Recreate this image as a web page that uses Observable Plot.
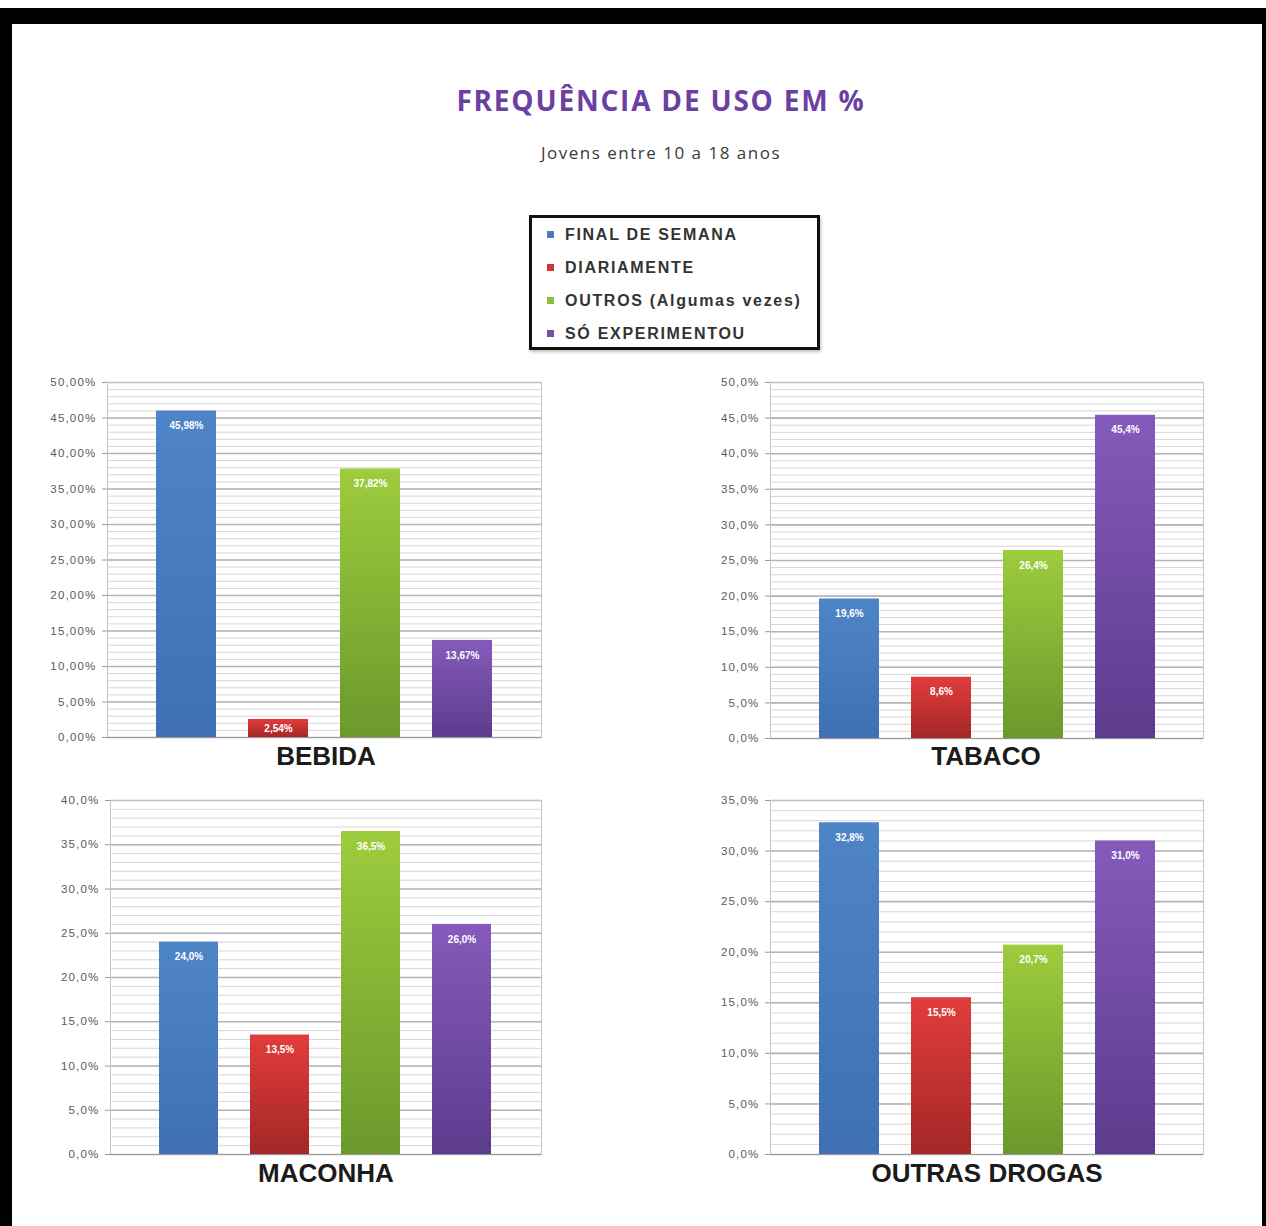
<!DOCTYPE html>
<html>
<head>
<meta charset="utf-8">
<script src="https://cdn.jsdelivr.net/npm/d3@7"></script>
<script src="https://cdn.jsdelivr.net/npm/@observablehq/plot@0.6"></script>
<style>
  html, body { margin: 0; padding: 0; background: #fff; }
  #page { position: relative; width: 1266px; height: 1226px; overflow: hidden; background: #fff; }
  #frame { position: absolute; left: 0; top: 8px; width: 1266px; height: 1218px; box-sizing: border-box;
           border-top: 16px solid #000; border-left: 12px solid #000; border-right: 4px solid #000; background: #fff; }
  .abs { position: absolute; }
  #title { left: 261px; width: 800px; top: 83px; text-align: center; font-family: "Open Sans", sans-serif;
           font-weight: 700; font-size: 28px; line-height: 34px; color: #6c3fa3; letter-spacing: 1.8px; }
  #subtitle { left: 461px; width: 400px; top: 142px; text-align: center; font-family: "Open Sans", sans-serif;
              font-size: 17px; line-height: 22px; color: #3a3a3a; letter-spacing: 1.5px; }
  #legend { left: 529px; top: 215px; width: 291px; height: 135px; box-sizing: border-box; border: 3px solid #111;
            background: #fff; box-shadow: 1px 2px 3px rgba(0,0,0,0.25); }
  .lrow { position: relative; height: 33px; line-height: 33px; padding-left: 33px; font-family: "Liberation Sans", Arial, sans-serif;
          font-weight: 700; font-size: 16px; color: #333; letter-spacing: 1.7px; white-space: nowrap; }
  .lsw { position: absolute; left: 15px; top: 13px; width: 7px; height: 7px; }
  .cat { font-family: "Liberation Sans", Arial, sans-serif; font-weight: 700; font-size: 26px; line-height: 30px;
         color: #1b1b1b; text-align: center; width: 400px; }
  .chart { position: absolute; }
</style>
</head>
<body>
<div id="page">
  <div id="frame"></div>
  <svg width="0" height="0" style="position:absolute">
    <defs>
      <linearGradient id="gBlue" x1="0" y1="0" x2="0" y2="1">
        <stop offset="0" stop-color="#4e85c8"/><stop offset="1" stop-color="#3e70b3"/>
      </linearGradient>
      <linearGradient id="gRed" x1="0" y1="0" x2="0" y2="1">
        <stop offset="0" stop-color="#e23c3c"/><stop offset="1" stop-color="#a42727"/>
      </linearGradient>
      <linearGradient id="gGreen" x1="0" y1="0" x2="0" y2="1">
        <stop offset="0" stop-color="#9dcc3d"/><stop offset="1" stop-color="#6b992c"/>
      </linearGradient>
      <linearGradient id="gPurple" x1="0" y1="0" x2="0" y2="1">
        <stop offset="0" stop-color="#855abb"/><stop offset="1" stop-color="#5c3c8d"/>
      </linearGradient>
    </defs>
  </svg>
  <div id="title" class="abs"></div>
  <div id="subtitle" class="abs"></div>
  <div id="legend" class="abs"></div>
</div>
<script>
// ---- data ----
const titleText = "FREQUÊNCIA DE USO EM %";
const subtitleText = "Jovens entre 10 a 18 anos";
const categories = ["FINAL DE SEMANA", "DIARIAMENTE", "OUTROS (Algumas vezes)", "SÓ EXPERIMENTOU"];
const panelNames = ["BEBIDA", "TABACO", "MACONHA", "OUTRAS DROGAS"];
const bebida = [45.98, 2.54, 37.82, 13.67];
const tabaco = [19.6, 8.6, 26.4, 45.4];
const maconha = [24.0, 13.5, 36.5, 26.0];
const outrasDrogas = [32.8, 15.5, 20.7, 31.0];
const yMaxes = [50, 50, 40, 35];
const decimals = [2, 1, 1, 1];
const legendColors = ["#4a7ec0", "#cf3535", "#8dbf3a", "#7450a8"];
const gradientIds = ["gBlue", "gRed", "gGreen", "gPurple"];

// ---- header & legend ----
document.getElementById("title").textContent = titleText;
document.getElementById("subtitle").textContent = subtitleText;
const legend = document.getElementById("legend");
categories.forEach((c, i) => {
  const row = document.createElement("div");
  row.className = "lrow";
  const sw = document.createElement("span");
  sw.className = "lsw";
  sw.style.background = legendColors[i];
  row.appendChild(sw);
  row.appendChild(document.createTextNode(c));
  legend.appendChild(row);
});

// ---- panels ----
const page = document.getElementById("page");
const allValues = [bebida, tabaco, maconha, outrasDrogas];
const layout = [
  {left: 30, top: 372, width: 521, height: 375, marginLeft: 77, catX: 326, catY: 756},
  {left: 700, top: 372, width: 513, height: 376, marginLeft: 70, catX: 986, catY: 756},
  {left: 30, top: 790, width: 521, height: 374, marginLeft: 80, catX: 326, catY: 1173},
  {left: 700, top: 790, width: 513, height: 374, marginLeft: 70, catX: 987, catY: 1173}
];

function makeChart(values, yMax, dec, L) {
  const data = categories.map((c, i) => ({cat: c, v: values[i]}));
  const fmt = d => d.toFixed(dec).replace(".", ",") + "%";
  const minor = d3.range(0, yMax + 0.001, 1);
  const major = d3.range(0, yMax + 0.001, 5);
  return Plot.plot({
    width: L.width,
    height: L.height,
    marginLeft: L.marginLeft,
    marginRight: 10,
    marginTop: 10,
    marginBottom: 10,
    x: {domain: categories, paddingInner: 0.35, paddingOuter: 0.52, axis: null},
    y: {domain: [0, yMax], axis: null},
    color: {domain: categories, range: gradientIds.map(id => `url(#${id})`)},
    style: {fontFamily: "Liberation Sans, Arial, sans-serif", fontSize: "11.5px", color: "#5a5a5a", background: "transparent", overflow: "visible"},
    marks: [
      Plot.ruleY(minor, {stroke: "#d6d6d6", strokeWidth: 1}),
      Plot.ruleY(major, {stroke: "#b4b4b4", strokeWidth: 1.6}),
      Plot.frame({stroke: "#c4c4c4"}),
      Plot.ruleY([0], {stroke: "#9a9a9a", strokeWidth: 1.2}),
      Plot.axisY({ticks: major, tickFormat: fmt, tickSize: 5, tickPadding: 6, stroke: "#9a9a9a", fill: "#5a5a5a", label: null}),
      Plot.barY(data, {x: "cat", y: "v", fill: "cat"}),
      Plot.text(data.filter(d => d.v > 5), {x: "cat", y: "v", text: d => fmt(d.v), dy: 15, fill: "white",
        fontWeight: "bold", fontSize: 10, lineAnchor: "middle"}),
      Plot.text(data.filter(d => d.v <= 5), {x: "cat", y: d => d.v / 2, text: d => fmt(d.v), fill: "white",
        fontWeight: "bold", fontSize: 10, lineAnchor: "middle"})
    ]
  });
}

allValues.forEach((vals, k) => {
  const L = layout[k];
  const svg = makeChart(vals, yMaxes[k], decimals[k], L);
  svg.classList.add("chart");
  svg.style.left = L.left + "px";
  svg.style.top = L.top + "px";
  svg.querySelectorAll("g[aria-label='y-axis tick label'] text").forEach(t => t.setAttribute("letter-spacing", "1.2"));
  page.appendChild(svg);
  const cat = document.createElement("div");
  cat.className = "abs cat";
  cat.style.left = (L.catX - 200) + "px";
  cat.style.top = (L.catY - 15) + "px";
  cat.textContent = panelNames[k];
  page.appendChild(cat);
});
</script>
</body>
</html>
